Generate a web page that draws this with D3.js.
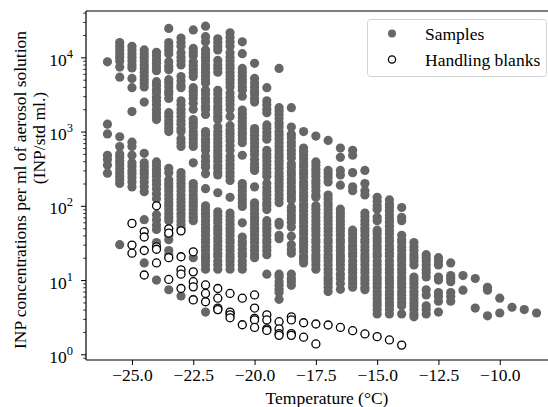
<!DOCTYPE html>
<html>
<head>
<meta charset="utf-8">
<script src="https://cdn.jsdelivr.net/npm/d3@7"></script>
<style>
  html, body { margin: 0; padding: 0; background: #fff; }
  svg { display: block; }
  text { font-family: "Liberation Serif", "Times New Roman", serif; }
</style>
</head>
<body>
<svg id="chart" width="548" height="407"></svg>
<script>
// ---------------- DATA ----------------
const sampleTemps = [-26, -25.5, -25, -24.5, -24, -23.5, -23, -22.5, -22, -21.5, -21, -20.5,
  -20, -19.5, -19, -18.5, -18, -17.5, -17, -16.5, -16, -15.5, -15, -14.5, -14, -13.5,
  -13, -12.5, -12, -11.5, -11, -10.5, -10, -9.5, -9, -8.5];

const sampleValues = [
  [8700, 1260, 930, 480, 420, 355, 275],
  [15800, 14100, 12600, 11200, 10000, 8900, 7400, 5400, 850, 630, 500, 450, 400, 355, 316, 280, 250, 224, 200, 30],
  [14100, 12600, 11200, 10000, 8900, 7900, 7200, 5200, 3900, 1860, 720, 630, 480, 380, 340, 300, 270, 240, 210, 180],
  [12600, 11200, 10000, 8900, 7900, 7100, 6300, 5600, 5000, 4500, 4000, 2500, 510, 380, 340, 300, 270, 240, 210, 180, 155, 65, 17],
  [11700, 10500, 9300, 8300, 7400, 6600, 4700, 4200, 3700, 3300, 2900, 2600, 2300, 2000, 1800, 1600, 1450, 390, 350, 310, 280, 250, 220, 195, 170, 145, 125, 76, 65, 55, 48, 32, 10],
  [24500, 15800, 14100, 12600, 11200, 8700, 7600, 6800, 5000, 4500, 4000, 3500, 3200, 2800, 1800, 1600, 1400, 1260, 1120, 1000, 320, 280, 224, 200, 180, 160, 140, 125, 110, 100, 89, 79, 70, 63, 40, 35, 25, 22, 7.4],
  [18200, 16000, 14100, 11500, 10000, 8900, 7900, 5500, 4800, 4200, 3900, 2600, 2300, 2000, 1800, 1600, 1400, 1260, 1100, 1000, 800, 710, 630, 280, 250, 224, 200, 180, 160, 140, 125, 112, 100, 89, 79, 71, 63, 56, 50, 6.1],
  [23400, 13200, 11700, 10500, 8700, 7800, 6900, 6200, 5500, 3900, 3500, 3100, 2800, 2400, 2000, 1450, 1300, 1150, 1000, 900, 800, 710, 630, 380, 200, 180, 160, 140, 125, 112, 100, 89, 79, 70, 63, 20, 5.5],
  [26300, 19000, 16200, 12600, 11200, 10000, 8900, 7900, 7100, 6300, 5600, 5000, 4500, 3600, 3200, 2800, 2500, 2200, 2000, 1700, 1000, 900, 790, 710, 630, 560, 460, 400, 350, 330, 270, 170, 100, 89, 79, 71, 63, 56, 50, 45, 40, 35, 32, 28, 25, 22, 20, 18, 16, 14, 3.7],
  [17800, 15800, 14100, 12600, 9100, 7900, 7100, 6300, 3600, 3200, 2800, 2500, 2200, 2000, 1800, 1600, 1450, 1150, 1000, 900, 800, 710, 630, 560, 500, 450, 400, 350, 320, 280, 260, 150, 83, 74, 66, 59, 52, 47, 42, 37, 33, 29, 26, 23, 21, 18, 16, 14, 4.0],
  [21400, 18600, 16200, 14100, 11500, 10000, 8900, 7900, 7100, 6300, 5600, 5000, 4500, 4000, 3300, 2900, 2600, 2300, 2000, 1600, 1200, 1050, 950, 850, 750, 650, 560, 460, 410, 360, 320, 280, 250, 220, 130, 80, 71, 63, 56, 50, 45, 40, 35, 32, 28, 25, 22, 20, 18, 16, 14, 3.6],
  [16200, 11200, 7100, 6300, 5600, 5000, 4500, 4000, 3600, 3000, 1950, 1740, 1550, 1380, 1230, 1100, 980, 900, 800, 710, 480, 200, 180, 160, 140, 125, 110, 98, 59, 38, 33, 30, 26, 23, 21, 18, 16, 14],
  [8300, 5200, 4500, 4000, 3500, 3200, 2800, 2500, 1100, 1000, 890, 790, 700, 620, 550, 490, 420, 370, 330, 300, 180, 110, 100, 89, 79, 70, 63, 56, 50, 45, 40, 36, 32, 28, 25, 22, 20],
  [3900, 2600, 2300, 2000, 1800, 1230, 1100, 980, 870, 790, 560, 500, 450, 400, 355, 315, 280, 250, 200, 175, 155, 140, 125, 110, 100, 89, 63, 56, 50, 45, 40, 35, 32, 28, 25, 22, 12],
  [7100, 2100, 1900, 1700, 1500, 1300, 1150, 1000, 900, 800, 710, 630, 560, 500, 450, 400, 360, 320, 280, 250, 225, 200, 180, 160, 140, 125, 110, 60, 55, 40, 36, 12, 11, 9.5, 8.5, 7.5, 6.8, 5.5],
  [2100, 1150, 920, 820, 720, 640, 560, 500, 440, 370, 330, 290, 260, 230, 205, 180, 160, 145, 130, 120, 95, 85, 75, 67, 60, 52, 39, 30, 26, 23, 12, 10.5, 9.5, 8.5],
  [1000, 600, 540, 480, 430, 380, 340, 300, 270, 240, 210, 190, 170, 150, 135, 120, 105, 95, 85, 75, 67, 60, 53, 47, 42, 37, 33, 30, 27, 24, 21, 19, 17],
  [870, 390, 350, 310, 280, 250, 220, 200, 180, 160, 140, 130, 100, 90, 80, 71, 63, 56, 50, 45, 40, 35, 32, 28, 25, 22, 20, 18, 16, 14],
  [760, 300, 270, 240, 210, 140, 125, 110, 100, 89, 79, 70, 63, 56, 50, 45, 40, 35, 32, 28, 25, 22, 20, 18, 16, 14, 12.5, 11, 10, 9, 8, 7],
  [600, 450, 300, 260, 190, 90, 80, 71, 63, 56, 50, 45, 40, 35, 32, 28, 25, 22, 20, 18, 16, 14, 12, 10.5, 9, 7.5],
  [560, 480, 280, 180, 160, 47, 42, 37, 33, 29, 26, 23, 21, 18, 16, 14, 12.5, 11, 10, 9, 8],
  [300, 200, 160, 140, 80, 71, 63, 56, 50, 45, 40, 35, 32, 28, 25, 22, 20, 18, 16, 14, 12.5, 11, 10, 9, 8, 7.4],
  [130, 115, 100, 90, 70, 63, 47, 42, 37, 33, 29, 26, 23, 21, 18, 16, 14, 12.5, 11, 10, 9, 8, 7, 6.3, 5.6, 5, 4.5, 4, 3.5],
  [120, 105, 95, 85, 75, 67, 60, 53, 47, 42, 37, 33, 29, 26, 23, 21, 18, 16, 14, 12.5, 11, 10, 9, 8, 7, 6.3, 5.6, 5, 4.5, 4, 3.5],
  [95, 70, 63, 40, 35, 32, 28, 25, 22, 20, 18, 16, 14, 12.5, 11, 10, 9, 8, 7, 6.3, 5.6, 5, 4.5, 3.5],
  [32, 28, 25, 22, 20, 18, 16, 11, 10, 9, 8, 7, 6.3, 5.6, 5, 4.5, 4, 3.5, 3.2],
  [22, 20, 18, 16, 14, 12.5, 11, 7.4, 6.3, 4.5, 4.0, 3.5],
  [20, 18, 16, 11, 10, 6.8, 6.0, 5.2, 3.7],
  [17, 11.5, 10.5, 9.5, 6.8, 6.0, 5.2],
  [11.5, 7.3],
  [10.5, 4.2],
  [8, 7.3, 3.3],
  [5.7, 3.6],
  [4.3],
  [4.0],
  [3.6]
];

const blankTemps = [-25, -24.5, -24, -23.5, -23, -22.5, -22, -21.5, -21, -20.5, -20, -19.5,
  -19, -18.5, -18, -17.5, -17, -16.5, -16, -15.5, -15, -14.5, -14];
const blankValues = [
  [58, 29.6, 23],
  [45, 38, 25, 11.7],
  [100, 28, 26, 17],
  [49, 43, 20, 10.2],
  [46, 20.6, 13.7, 12, 7.7],
  [24, 12.9, 9.5, 8.1, 5.4],
  [8.6, 6.6, 5.1],
  [7.7, 5.7, 4.2, 4.0],
  [6.6, 3.7, 3.4, 3.1],
  [5.7, 2.5],
  [6.3, 4.2, 3.05, 2.9, 2.3],
  [3.4, 2.9, 2.2, 2.1],
  [2.75, 2.2, 1.9, 1.8],
  [3.2, 2.9, 1.9, 1.8],
  [2.66, 1.7],
  [2.56, 1.38],
  [2.48],
  [2.3],
  [2.08],
  [1.88],
  [1.73],
  [1.56],
  [1.33]
];

const xTickValues = [-25, -22.5, -20, -17.5, -15, -12.5, -10];
const yTickValues = [1, 10, 100, 1000, 10000];
const legendLabels = ["Samples", "Handling blanks"];
const xTitle = "Temperature (°C)";
const yTitle1 = "INP concentrations per ml of aerosol solution";
const yTitle2 = "(INP/std ml.)";

// ---------------- LAYOUT ----------------
const L = 86, R = 558, T = 11, B = 360;
const svg = d3.select("#chart");
const FONT = 17.5;
const grey = "#666666";

const x = d3.scaleLinear().domain([-26.875, -7.625]).range([L, R]);
const y = d3.scaleLog().domain([0.838, 42100]).range([B, T]);

const samples = [];
sampleTemps.forEach((t, i) => sampleValues[i].forEach(v => samples.push({t, v})));
const blanks = [];
blankTemps.forEach((t, i) => blankValues[i].forEach(v => blanks.push({t, v})));

// points
const plot = svg.append("g");
plot.selectAll("circle.s").data(samples).enter().append("circle")
  .attr("class", "s")
  .attr("cx", d => x(d.t)).attr("cy", d => y(d.v)).attr("r", 4.6)
  .attr("fill", grey);
plot.selectAll("circle.b").data(blanks).enter().append("circle")
  .attr("class", "b")
  .attr("cx", d => x(d.t)).attr("cy", d => y(d.v)).attr("r", 4.0)
  .attr("fill", "white").attr("stroke", "black").attr("stroke-width", 1.3);

// spines
svg.append("line").attr("x1", L).attr("x2", L).attr("y1", T).attr("y2", B)
  .attr("stroke", "black").attr("stroke-width", 1.2);
svg.append("line").attr("x1", L).attr("x2", R).attr("y1", T).attr("y2", T)
  .attr("stroke", "black").attr("stroke-width", 1.2);
svg.append("line").attr("x1", L).attr("x2", R).attr("y1", B).attr("y2", B)
  .attr("stroke", "black").attr("stroke-width", 1.2);
svg.append("line").attr("x1", R).attr("x2", R).attr("y1", T).attr("y2", B)
  .attr("stroke", "black").attr("stroke-width", 1.2);

// x axis
const xAxis = d3.axisBottom(x).tickValues(xTickValues).tickSize(5).tickPadding(4)
  .tickFormat(d3.format(".1f"));
const gx = svg.append("g").attr("transform", `translate(0,${B})`).call(xAxis);
gx.select(".domain").remove();
gx.selectAll(".tick line").attr("stroke", "black").attr("stroke-width", 1);
gx.selectAll(".tick text").attr("font-size", FONT).attr("fill", "black")
  .attr("font-family", "Liberation Serif");

// y axis major
const yAxis = d3.axisLeft(y).tickValues(yTickValues).tickSize(5).tickFormat("");
const gy = svg.append("g").attr("transform", `translate(${L},0)`).call(yAxis);
gy.select(".domain").remove();
gy.selectAll(".tick line").attr("stroke", "black").attr("stroke-width", 1);
gy.selectAll(".tick").each(function(d) {
  const t = d3.select(this).append("text")
    .attr("x", -13).attr("y", 8)
    .attr("text-anchor", "end")
    .attr("fill", "black")
    .attr("font-family", "Liberation Serif")
    .attr("font-size", FONT);
  t.append("tspan").text("10");
  t.append("tspan").attr("font-size", 12.5).attr("dy", -8).text(Math.round(Math.log10(d)));
});

// y axis minor
const minor = [];
[0.1, 1, 10, 100, 1000, 10000].forEach(dec => {
  for (let m = 2; m <= 9; m++) {
    const v = dec * m;
    if (v >= 0.838 && v <= 42100) minor.push(v);
  }
});
const yMinor = d3.axisLeft(y).tickValues(minor).tickSize(2.8).tickFormat("");
const gym = svg.append("g").attr("transform", `translate(${L},0)`).call(yMinor);
gym.select(".domain").remove();
gym.selectAll(".tick line").attr("stroke", "black").attr("stroke-width", 0.8);

// titles
svg.append("text").attr("x", 327).attr("y", 403.5).attr("text-anchor", "middle")
  .attr("font-size", FONT).attr("fill", "black").text(xTitle);
svg.append("text").attr("transform", "translate(26,190) rotate(-90)")
  .attr("text-anchor", "middle").attr("font-size", FONT).attr("fill", "black").text(yTitle1);
svg.append("text").attr("transform", "translate(45,138) rotate(-90)")
  .attr("text-anchor", "middle").attr("font-size", FONT).attr("fill", "black").text(yTitle2);

// legend
const lg = svg.append("g");
lg.append("rect").attr("x", 367.5).attr("y", 19.5).attr("width", 179).attr("height", 57)
  .attr("rx", 3).attr("fill", "white").attr("fill-opacity", 0.85)
  .attr("stroke", "#d4d4d4").attr("stroke-width", 1);
lg.append("circle").attr("cx", 392).attr("cy", 33.5).attr("r", 4.0).attr("fill", grey);
lg.append("circle").attr("cx", 392).attr("cy", 59.5).attr("r", 3.6)
  .attr("fill", "white").attr("stroke", "black").attr("stroke-width", 1.3);
lg.append("text").attr("x", 425).attr("y", 39.5).attr("font-size", FONT).attr("fill", "black").text(legendLabels[0]);
lg.append("text").attr("x", 425).attr("y", 65.5).attr("font-size", FONT).attr("fill", "black").text(legendLabels[1]);
</script>
</body>
</html>
